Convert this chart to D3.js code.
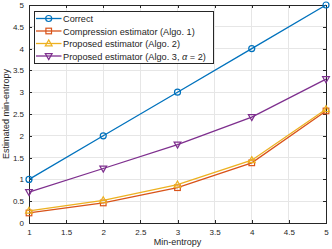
<!DOCTYPE html>
<html><head><meta charset="utf-8">
<script src="https://cdn.jsdelivr.net/npm/d3@7"></script>
<style>body{margin:0;background:#fff}svg{display:block;font-family:"Liberation Sans",Arial,sans-serif}</style>
</head><body><svg id="c" width="332" height="249"></svg>
<script>
const xValues = [1, 2, 3, 4, 5];
const correct = [1, 2, 3, 4, 5];
const compression = [0.23, 0.46, 0.81, 1.38, 2.57];
const proposed2 = [0.28, 0.52, 0.88, 1.44, 2.61];
const proposed3 = [0.71, 1.25, 1.80, 2.43, 3.30];
const xTicks = [1, 1.5, 2, 2.5, 3, 3.5, 4, 4.5, 5];
const yTicks = [0, 0.5, 1, 1.5, 2, 2.5, 3, 3.5, 4, 4.5, 5];
const seriesNames = ["Correct", "Compression estimator (Algo. 1)", "Proposed estimator (Algo. 2)", "Proposed estimator (Algo. 3, "];
const colors = ["#0072BD", "#D95319", "#EDB120", "#7E2F8E"];
const markers = ["circle", "square", "up", "down"];
const seriesData = [correct, compression, proposed2, proposed3];

const svg = d3.select("#c");
const L = 29, R = 326, T = 5, B = 223;
const x = d3.scaleLinear().domain([1, 5]).range([L, R]);
const y = d3.scaleLinear().domain([0, 5]).range([B, T]);

// grid
svg.append("g").selectAll("line").data(xTicks).join("line")
  .attr("x1", d => x(d)).attr("x2", d => x(d)).attr("y1", T).attr("y2", B)
  .attr("stroke", "#e6e6e6").attr("stroke-width", 1).attr("shape-rendering","crispEdges");
svg.append("g").selectAll("line").data(yTicks).join("line")
  .attr("y1", d => y(d)).attr("y2", d => y(d)).attr("x1", L).attr("x2", R)
  .attr("stroke", "#e6e6e6").attr("stroke-width", 1).attr("shape-rendering","crispEdges");

// axes
const ax = d3.axisBottom(x).tickValues(xTicks).tickSizeInner(-3).tickSizeOuter(0).tickPadding(6).tickFormat(d3.format("~g"));
const ay = d3.axisLeft(y).tickValues(yTicks).tickSizeInner(-3).tickSizeOuter(0).tickPadding(5).tickFormat(d3.format("~g"));
const gx = svg.append("g").attr("transform", `translate(0,${B})`).call(ax);
const gy = svg.append("g").attr("transform", `translate(${L},0)`).call(ay);
const gx2 = svg.append("g").attr("transform", `translate(0,${T})`).call(d3.axisTop(x).tickValues(xTicks).tickSizeInner(-3).tickSizeOuter(0).tickFormat(""));
const gy2 = svg.append("g").attr("transform", `translate(${R},0)`).call(d3.axisRight(y).tickValues(yTicks).tickSizeInner(-3).tickSizeOuter(0).tickFormat(""));
[gx, gy, gx2, gy2].forEach(g => {
  g.selectAll("path,line").attr("stroke", "#262626").attr("shape-rendering","crispEdges");
  g.selectAll("text").attr("fill", "#262626").style("font-size", "8px").style("font-family", '"Liberation Sans",Arial,sans-serif');
});

// markers
function marker(g, type, cx, cy, col, s) {
  if (type === "circle") g.append("circle").attr("cx", cx).attr("cy", cy).attr("r", 3).attr("fill", "none").attr("stroke", col).attr("stroke-width", 1.2);
  else if (type === "square") g.append("rect").attr("x", cx - 2.8).attr("y", cy - 2.8).attr("width", 5.6).attr("height", 5.6).attr("fill", "none").attr("stroke", col).attr("stroke-width", 1.2);
  else if (type === "up") g.append("path").attr("d", `M${cx},${cy-3.6}L${cx+3.4},${cy+2.4}L${cx-3.4},${cy+2.4}Z`).attr("fill", "none").attr("stroke", col).attr("stroke-width", 1.2);
  else g.append("path").attr("d", `M${cx},${cy+3.6}L${cx+3.4},${cy-2.4}L${cx-3.4},${cy-2.4}Z`).attr("fill", "none").attr("stroke", col).attr("stroke-width", 1.2);
}

const line = d3.line().x((d, i) => x(xValues[i])).y(d => y(d));
seriesData.forEach((s, k) => {
  const g = svg.append("g");
  g.append("path").datum(s).attr("d", line).attr("fill", "none").attr("stroke", colors[k]).attr("stroke-width", 1.3);
  s.forEach((v, i) => marker(g, markers[k], x(xValues[i]), y(v), colors[k]));
});

// legend
const lg = svg.append("g");
lg.append("rect").attr("x", 34.5).attr("y", 11.5).attr("width", 179).attr("height", 52)
  .attr("fill", "#fff").attr("stroke", "#262626").attr("stroke-width", 1);
const rows = [18.5, 31, 43.5, 56];
seriesNames.forEach((n, k) => {
  const cy = rows[k];
  lg.append("line").attr("x1", 36).attr("x2", 61.5).attr("y1", cy).attr("y2", cy).attr("stroke", colors[k]).attr("stroke-width", 1.3);
  marker(lg, markers[k], 48.7, cy, colors[k]);
  const t = lg.append("text").attr("x", 63).attr("y", cy + 3.5).attr("fill", "#262626").style("font-size", "9.2px").text(n);
  if (k === 3) {
    t.append("tspan").style("font-style", "italic").text("α");
    t.append("tspan").text(" = 2)");
  }
});

// labels
svg.append("text").attr("x", (L + R) / 2).attr("y", 245).attr("text-anchor", "middle").attr("fill", "#262626").style("font-size", "9px").text("Min-entropy");
svg.append("text").attr("transform", `translate(9,${(T + B) / 2}) rotate(-90)`).attr("text-anchor", "middle").attr("fill", "#262626").style("font-size", "9px").text("Estimated min-entropy");
</script></body></html>
